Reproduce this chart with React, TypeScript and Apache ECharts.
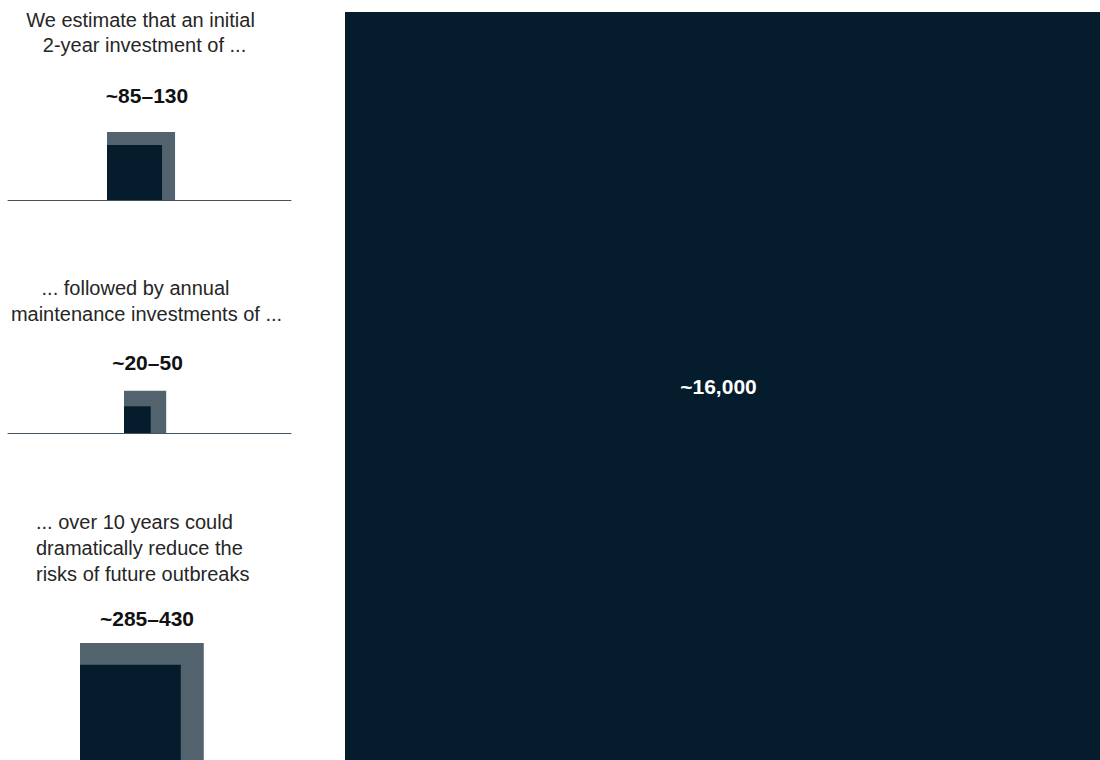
import React, { useEffect, useRef } from "react";
import * as echarts from "echarts";

// ---- data ----
const panelTexts: string[][] = [
  ["We estimate that an initial", "2-year investment of ..."],
  ["... followed by annual", "maintenance investments of ..."],
  ["... over 10 years could", "dramatically reduce the", "risks of future outbreaks"],
];
const lowValues = [85, 20, 285];
const highValues = [130, 50, 430];
const totalValue = 16000;
const totalLabel = "~16,000";

// ---- layout / style ----
const DARK = "#051c2c";
const GREY = "#53636e";
const TEXT = "#262626";
const LINE = "#44535e";
const FONT = '"Liberation Sans", Arial, sans-serif';

const BIG = { left: 345, top: 12, size: 755 };
const unit = BIG.size / Math.sqrt(totalValue); // px per sqrt-unit

const LINE_LEFT = 8;
const LINE_RIGHT = 291;

const panels = [
  { baseline: 200, squareLeft: 107, height: 75, textAlign: "center", textX: [140.5, 144.5], textY: [20, 45], labelX: 147, labelY: 95 },
  { baseline: 433, squareLeft: 124, height: 50, textAlign: "center", textX: [135.5, 146.5], textY: [288, 314], labelX: 147.5, labelY: 362 },
  { baseline: 767, squareLeft: 80, height: 130, textAlign: "left", textX: [36, 36, 36], textY: [522, 548, 574], labelX: 147, labelY: 618 },
];

export default function App() {
  const ref = useRef<HTMLDivElement>(null);
  useEffect(() => {
    document.body.style.margin = "0";
    if (!ref.current) return;
    const chart = echarts.init(ref.current, undefined, { renderer: "svg" });

    const grids: any[] = [];
    const xAxes: any[] = [];
    const yAxes: any[] = [];
    const series: any[] = [];
    const graphics: any[] = [];

    panels.forEach((p, i) => {
      const width = LINE_RIGHT - LINE_LEFT;
      grids.push({ left: LINE_LEFT, top: p.baseline - p.height, width, height: p.height });
      xAxes.push({
        type: "value",
        gridIndex: i,
        min: -(p.squareLeft - LINE_LEFT) / unit,
        max: (LINE_RIGHT - p.squareLeft) / unit,
        axisLine: { show: true, onZero: false, lineStyle: { color: LINE, width: 1 } },
        axisTick: { show: false },
        axisLabel: { show: false },
        splitLine: { show: false },
      });
      yAxes.push({
        type: "value",
        gridIndex: i,
        min: 0,
        max: p.height / unit,
        axisLine: { show: false },
        axisTick: { show: false },
        axisLabel: { show: false },
        splitLine: { show: false },
      });
      series.push({
        type: "custom",
        xAxisIndex: i,
        yAxisIndex: i,
        silent: true,
        data: [
          [highValues[i], 0],
          [lowValues[i], 1],
        ],
        renderItem: (params: any, api: any) => {
          const side = Math.sqrt(api.value(0));
          const p0 = api.coord([0, 0]);
          const p1 = api.coord([side, side]);
          return {
            type: "rect",
            shape: { x: p0[0], y: p1[1], width: p1[0] - p0[0], height: p0[1] - p1[1] },
            style: { fill: api.value(1) === 0 ? GREY : DARK },
          };
        },
      });

      panelTexts[i].forEach((t, k) => {
        graphics.push({
          type: "text",
          x: p.textX[k],
          y: p.textY[k],
          style: {
            text: t,
            font: `20px ${FONT}`,
            fill: TEXT,
            textAlign: p.textAlign,
            textVerticalAlign: "middle",
          },
        });
      });
      graphics.push({
        type: "text",
        x: p.labelX,
        y: p.labelY,
        style: {
          text: `~${lowValues[i]}\u2013${highValues[i]}`,
          font: `bold 21px ${FONT}`,
          fill: "#111",
          textAlign: "center",
          textVerticalAlign: "middle",
        },
      });
    });

    const bi = panels.length;
    const bigMax = Math.sqrt(totalValue);
    grids.push({ left: BIG.left, top: BIG.top, width: BIG.size, height: BIG.size });
    xAxes.push({ type: "value", gridIndex: bi, min: 0, max: bigMax, show: false });
    yAxes.push({ type: "value", gridIndex: bi, min: 0, max: bigMax, show: false });
    series.push({
      type: "custom",
      xAxisIndex: bi,
      yAxisIndex: bi,
      silent: true,
      data: [[totalValue]],
      renderItem: (params: any, api: any) => {
        const side = Math.sqrt(api.value(0));
        const p0 = api.coord([0, 0]);
        const p1 = api.coord([side, side]);
        return {
          type: "rect",
          shape: { x: p0[0], y: p1[1], width: p1[0] - p0[0], height: p0[1] - p1[1] },
          style: { fill: DARK },
          textContent: {
            style: { text: totalLabel, fill: "#ffffff", font: `bold 21px ${FONT}` },
          },
          textConfig: { position: "inside", offset: [-4, 0] },
        };
      },
    });

    chart.setOption({
      animation: false,
      backgroundColor: "#ffffff",
      grid: grids,
      xAxis: xAxes,
      yAxis: yAxes,
      series,
      graphic: graphics,
    });
    return () => chart.dispose();
  }, []);
  return <div ref={ref} style={{ width: 1100, height: 760 }} />;
}
